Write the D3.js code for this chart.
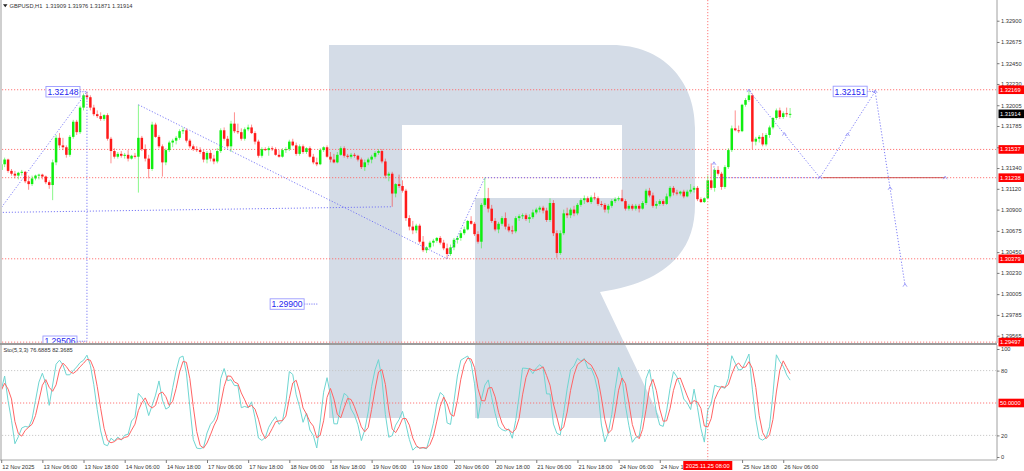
<!DOCTYPE html>
<html><head><meta charset="utf-8">
<script src="https://cdn.jsdelivr.net/npm/d3@7"></script>
<style>
html,body{margin:0;padding:0;background:#fff;}
svg{display:block;font-family:"Liberation Sans",Arial,sans-serif;}
</style></head><body>
<svg id="c" width="1024" height="471"></svg>
<script>
// ---------------- DATA ----------------
const symbolLabel = "GBPUSD,H1";
const headerValues = ["1.31909", "1.31976", "1.31871", "1.31914"];
const stochLabel = "Sto(5,3,3)";
const stochLabelValues = ["76.6885", "82.3685"];
const firstBarUTC = [2025, 10, 12, 18]; // 12 Nov 2025 18:00, hourly bars, weekends skipped

const opens = [
1.3132,1.3138,1.3143,1.3131,1.3128,1.3126,1.3129,1.3130,1.3120,1.3117,
1.3123,1.3126,1.3127,1.3125,1.3119,1.3116,1.3140,1.3166,1.3158,1.3156,
1.3148,1.3167,1.3183,1.3172,1.3198,1.3211,1.3209,1.3198,1.3191,1.3189,
1.3186,1.3190,1.3165,1.3152,1.3146,1.3149,1.3147,1.3148,1.3144,1.3147,
1.3146,1.3166,1.3154,1.3144,1.3133,1.3180,1.3167,1.3157,1.3140,1.3153,
1.3161,1.3163,1.3166,1.3173,1.3174,1.3163,1.3157,1.3154,1.3153,1.3151,
1.3143,1.3150,1.3144,1.3141,1.3152,1.3174,1.3165,1.3157,1.3181,1.3173,
1.3172,1.3165,1.3175,1.3177,1.3171,1.3162,1.3147,1.3154,1.3153,1.3155,
1.3154,1.3148,1.3146,1.3153,1.3154,1.3162,1.3158,1.3149,1.3157,1.3151,
1.3155,1.3146,1.3140,1.3138,1.3153,1.3156,1.3146,1.3143,1.3140,1.3148,
1.3155,1.3147,1.3146,1.3148,1.3147,1.3143,1.3135,1.3140,1.3143,1.3146,
1.3150,1.3152,1.3141,1.3126,1.3128,1.3107,1.3117,1.3115,1.3110,1.3081,
1.3072,1.3068,1.3073,1.3056,1.3047,1.3050,1.3055,1.3057,1.3060,1.3055,
1.3049,1.3043,1.3050,1.3058,1.3060,1.3065,1.3069,1.3078,1.3075,1.3064,
1.3056,1.3095,1.3102,1.3091,1.3078,1.3069,1.3075,1.3081,1.3072,1.3068,
1.3067,1.3081,1.3083,1.3084,1.3080,1.3082,1.3087,1.3090,1.3092,1.3089,
1.3079,1.3097,1.3065,1.3044,1.3065,1.3086,1.3084,1.3090,1.3086,1.3095,
1.3100,1.3102,1.3098,1.3103,1.3102,1.3096,1.3095,1.3090,1.3094,1.3099,
1.3101,1.3102,1.3099,1.3091,1.3094,1.3091,1.3094,1.3091,1.3097,1.3110,
1.3105,1.3094,1.3096,1.3099,1.3096,1.3104,1.3113,1.3108,1.3107,1.3109,
1.3104,1.3109,1.3111,1.3113,1.3101,1.3098,1.3102,1.3121,1.3113,1.3132,
1.3128,1.3114,1.3135,1.3153,1.3176,1.3174,1.3173,1.3201,1.3206,1.3211,
1.3162,1.3165,1.3167,1.3159,1.3169,1.3177,1.3187,1.3195,1.3188,1.3192,
1.31909];

const highs = [
1.3143,1.3145,1.3144,1.3133,1.3131,1.3130,1.3132,1.3131,1.3126,1.3126,
1.3127,1.3128,1.3128,1.3126,1.3121,1.3143,1.3169,1.3171,1.3166,1.3158,
1.3169,1.3185,1.3185,1.3200,1.3213,1.32148,1.3211,1.3201,1.3195,1.3193,
1.3191,1.3192,1.3167,1.3155,1.3151,1.3152,1.3150,1.3153,1.3148,1.3150,
1.3201,1.3168,1.3159,1.3148,1.3183,1.3182,1.3169,1.3159,1.3155,1.3163,
1.3165,1.3168,1.3175,1.3177,1.3176,1.3165,1.3159,1.3157,1.3156,1.3153,
1.3152,1.3153,1.3148,1.3155,1.3176,1.3177,1.3168,1.3184,1.3193,1.3181,
1.3176,1.3177,1.3180,1.3180,1.3173,1.3164,1.3156,1.3156,1.3157,1.3157,
1.3156,1.3153,1.3155,1.3156,1.3164,1.3165,1.3161,1.3159,1.3159,1.3156,
1.3157,1.3149,1.3145,1.3155,1.3157,1.3158,1.3151,1.3149,1.3151,1.3157,
1.3157,1.3149,1.3150,1.3150,1.3148,1.3145,1.3143,1.3145,1.3148,1.3152,
1.3154,1.3154,1.3144,1.3130,1.3130,1.3118,1.3127,1.3121,1.3112,1.3084,
1.3078,1.3075,1.3075,1.3062,1.3051,1.3057,1.3059,1.3061,1.3062,1.3058,
1.3054,1.3053,1.3060,1.3062,1.3067,1.3072,1.3079,1.3083,1.3077,1.3067,
1.3097,1.31238,1.3113,1.3095,1.3081,1.3077,1.3083,1.3087,1.3075,1.3073,
1.3083,1.3085,1.3086,1.3086,1.3085,1.3090,1.3092,1.3094,1.3094,1.3092,
1.3102,1.3100,1.3068,1.3068,1.3090,1.3092,1.3092,1.3094,1.3097,1.3102,
1.3105,1.3104,1.3105,1.3108,1.3104,1.3099,1.3097,1.3096,1.3101,1.3103,
1.3104,1.3111,1.3101,1.3096,1.3096,1.3096,1.3096,1.3099,1.3112,1.3113,
1.3108,1.3099,1.3101,1.3101,1.3107,1.3115,1.3115,1.3111,1.3110,1.3111,
1.3111,1.3117,1.3115,1.3115,1.3103,1.3103,1.3126,1.3139,1.3134,1.3136,
1.3130,1.3137,1.3155,1.3179,1.3195,1.3179,1.3202,1.3208,1.3216,1.3213,
1.3167,1.3169,1.3171,1.3171,1.3179,1.3188,1.3197,1.3198,1.3194,1.3198,
1.31976];

const lows = [
1.3130,1.3135,1.3129,1.3126,1.3123,1.3122,1.3126,1.3118,1.3111,1.3115,
1.3121,1.3122,1.3122,1.3117,1.3112,1.3100,1.3137,1.3155,1.3153,1.3145,
1.3146,1.3165,1.3169,1.3170,1.3195,1.3206,1.3195,1.3189,1.3187,1.3184,
1.3184,1.3163,1.3139,1.3144,1.3144,1.3145,1.3144,1.3141,1.3143,1.3144,
1.3108,1.3152,1.3141,1.3123,1.3131,1.3166,1.3155,1.3125,1.3137,1.3151,
1.3156,1.3159,1.3164,1.3170,1.3161,1.3155,1.3152,1.3151,1.3149,1.3140,
1.3139,1.3141,1.3138,1.3139,1.3150,1.3163,1.3155,1.3151,1.3171,1.3170,
1.3163,1.3163,1.3173,1.3170,1.3159,1.3145,1.3145,1.3152,1.3147,1.3152,
1.3147,1.3145,1.3145,1.3150,1.3152,1.3157,1.3147,1.3147,1.3149,1.3149,
1.3145,1.3138,1.3136,1.3137,1.3151,1.3145,1.3140,1.3139,1.3139,1.3147,
1.3145,1.3144,1.3144,1.3145,1.3141,1.3133,1.3131,1.3137,1.3139,1.3144,
1.3148,1.3139,1.3123,1.3120,1.3093,1.3103,1.3113,1.3108,1.3078,1.3068,
1.3064,1.3065,1.3054,1.3045,1.3044,1.3048,1.3051,1.3055,1.3053,1.3047,
1.3038,1.3041,1.3047,1.3054,1.3057,1.3063,1.3068,1.3074,1.3062,1.3054,
1.3049,1.3093,1.3087,1.3076,1.3067,1.3065,1.3073,1.3069,1.3066,1.3064,
1.3065,1.3078,1.3080,1.3078,1.3076,1.3080,1.3085,1.3087,1.3086,1.3077,
1.3077,1.3062,1.3039,1.3042,1.3063,1.3081,1.3081,1.3083,1.3084,1.3093,
1.3096,1.3097,1.3096,1.3100,1.3094,1.3093,1.3087,1.3086,1.3092,1.3097,
1.3099,1.3098,1.3089,1.3089,1.3089,1.3089,1.3087,1.3090,1.3095,1.3103,
1.3092,1.3091,1.3094,1.3094,1.3095,1.3102,1.3105,1.3105,1.3105,1.3102,
1.3103,1.3107,1.3108,1.3099,1.3097,1.3097,1.3101,1.3111,1.3109,1.3126,
1.3111,1.3112,1.3133,1.3151,1.3173,1.3171,1.3172,1.3199,1.3204,1.3154,
1.3158,1.3161,1.3157,1.3157,1.3166,1.3175,1.3185,1.3186,1.3186,1.3188,
1.31871];

const closes = [
1.3138,1.3143,1.3131,1.3128,1.3126,1.3129,1.3130,1.3120,1.3117,1.3123,
1.3126,1.3127,1.3125,1.3119,1.3116,1.3140,1.3166,1.3158,1.3156,1.3148,
1.3167,1.3183,1.3172,1.3198,1.3211,1.3209,1.3198,1.3191,1.3189,1.3186,
1.3190,1.3165,1.3152,1.3146,1.3149,1.3147,1.3148,1.3144,1.3147,1.3146,
1.3166,1.3154,1.3144,1.3133,1.3180,1.3167,1.3157,1.3140,1.3153,1.3161,
1.3163,1.3166,1.3173,1.3174,1.3163,1.3157,1.3154,1.3153,1.3151,1.3143,
1.3150,1.3144,1.3141,1.3152,1.3174,1.3165,1.3157,1.3181,1.3173,1.3172,
1.3165,1.3175,1.3177,1.3171,1.3162,1.3147,1.3154,1.3153,1.3155,1.3154,
1.3148,1.3146,1.3153,1.3154,1.3162,1.3158,1.3149,1.3157,1.3151,1.3155,
1.3146,1.3140,1.3138,1.3153,1.3156,1.3146,1.3143,1.3140,1.3148,1.3155,
1.3147,1.3146,1.3148,1.3147,1.3143,1.3135,1.3140,1.3143,1.3146,1.3150,
1.3152,1.3141,1.3126,1.3128,1.3107,1.3117,1.3115,1.3110,1.3081,1.3072,
1.3068,1.3073,1.3056,1.3047,1.3050,1.3055,1.3057,1.3060,1.3055,1.3049,
1.3043,1.3050,1.3058,1.3060,1.3065,1.3069,1.3078,1.3075,1.3064,1.3056,
1.3095,1.3102,1.3091,1.3078,1.3069,1.3075,1.3081,1.3072,1.3068,1.3067,
1.3081,1.3083,1.3084,1.3080,1.3082,1.3087,1.3090,1.3092,1.3089,1.3079,
1.3097,1.3065,1.3044,1.3065,1.3086,1.3084,1.3090,1.3086,1.3095,1.3100,
1.3102,1.3098,1.3103,1.3102,1.3096,1.3095,1.3090,1.3094,1.3099,1.3101,
1.3102,1.3099,1.3091,1.3094,1.3091,1.3094,1.3091,1.3097,1.3110,1.3105,
1.3094,1.3096,1.3099,1.3096,1.3104,1.3113,1.3108,1.3107,1.3109,1.3104,
1.3109,1.3111,1.3113,1.3101,1.3098,1.3102,1.3121,1.3113,1.3132,1.3128,
1.3114,1.3135,1.3153,1.3176,1.3174,1.3173,1.3201,1.3206,1.3211,1.3162,
1.3165,1.3167,1.3159,1.3169,1.3177,1.3187,1.3195,1.3188,1.3192,1.3191,
1.31914];

const priceTicks = [1.32900,1.32675,1.32450,1.32230,1.32005,1.31785,1.31560,1.31340,
                    1.31120,1.30900,1.30675,1.30450,1.30230,1.30005,1.29785,1.29565];
const priceRange = [1.294876, 1.331192];
const levelLines = [1.32169, 1.31537, 1.31238, 1.30379, 1.29497];
const currentPrice = 1.31914;
const stochTicks = [0, 20, 80, 100];
const stochGreyLevels = [20, 80];
const stochRedLevel = 50;
const crosshairBar = 206;

// analyst drawings: [bar index, price]
const trendLines = [
  [[-0.4, 1.30900], [25, 1.32148]],
  [[-0.4, 1.30870], [114, 1.30930]],
  [[25, 1.32148], [25, 1.29506]],
  [[40, 1.32010], [130, 1.30380]],
  [[130, 1.30380], [141, 1.31238]],
  [[141, 1.31238], [175, 1.31238]],
  [[207.8, 1.31390], [207.8, 1.31238]],
  [[207.8, 1.31238], [238.7, 1.31238]]
];
const projection = [[218, 1.32160], [238.7, 1.31238], [254.8, 1.32151], [263.5, 1.30100]];
const redSegment = [[239.5, 1.31238], [275.2, 1.31238]];
const priceLabels = [
  {text: "1.32148", bar: 25, price: 1.32148, gap: 7},
  {text: "1.29506", bar: 25, price: 1.29506, gap: 10},
  {text: "1.32151", bar: 254.8, price: 1.32151, gap: 8},
  {text: "1.29900", bar: 92.4, price: 1.29900, gap: 14}
];

// ---------------- CHART ----------------
const svg = d3.select("#c");
const axisX = 997, mainBottom = 343, subTop = 345, subBottom = 460;
const n = closes.length;
const x = d3.scaleLinear().domain([0, n - 1]).range([1.2, 1.2 + 3.43 * (n - 1)]);
const y = d3.scaleLinear().domain(priceRange).range([mainBottom, 0]);
const ys = d3.scaleLinear().domain([0, 100]).range([457, 349]);
const F = "Liberation Sans, Arial, sans-serif";
const fs = 5.7;

const defs = svg.append("defs");
defs.append("clipPath").attr("id", "cm").append("rect").attr("x", 2).attr("y", 0).attr("width", axisX - 2).attr("height", mainBottom);
defs.append("clipPath").attr("id", "cs").append("rect").attr("x", 2).attr("y", subTop).attr("width", axisX - 2).attr("height", subBottom - subTop);
defs.append("clipPath").attr("id", "call").append("rect").attr("x", 2).attr("y", 0).attr("width", axisX - 2).attr("height", subBottom);

// watermark logo (decorative)
svg.append("path").attr("clip-path", "url(#call)")
  .attr("d", "M329,418 L329,45 L612,45 C662,45 695,80 695,128 L695,205 C695,250 668,282 600,292 L660,418 L475,418 L475,198 L622,198 L622,125 L402,125 L402,418 Z")
  .attr("fill", "#d4dce7");

// bar times
const barTimes = [];
{
  let t = Date.UTC(...firstBarUTC);
  while (barTimes.length < n) {
    const d = new Date(t);
    const wd = d.getUTCDay();
    if (wd !== 0 && wd !== 6) barTimes.push(d);
    t += 3600e3;
  }
}

// main panel
const gm = svg.append("g").attr("clip-path", "url(#cm)");
gm.selectAll("line.lvl").data(levelLines).join("line")
  .attr("x1", 2).attr("x2", axisX).attr("y1", d => y(d)).attr("y2", d => y(d))
  .attr("stroke", "#ff6a6a").attr("stroke-width", 0.9).attr("stroke-dasharray", "1.2,1.8");

const bars = d3.range(n).map(i => ({i, o: opens[i], h: highs[i], l: lows[i], c: closes[i]}));
const col = d => d.c >= d.o ? "#10ee10" : "#ff1a1a";
gm.selectAll("line.wick").data(bars).join("line")
  .attr("x1", d => x(d.i)).attr("x2", d => x(d.i))
  .attr("y1", d => y(d.h)).attr("y2", d => y(d.l))
  .attr("stroke", col).attr("stroke-width", 0.9).attr("stroke-opacity", 0.55);
gm.selectAll("rect.body").data(bars).join("rect")
  .attr("x", d => x(d.i) - 1.25).attr("width", 2.5)
  .attr("y", d => y(Math.max(d.o, d.c)))
  .attr("height", d => Math.max(1, Math.abs(y(d.o) - y(d.c))))
  .attr("fill", col);

// analyst drawings
const px = p => [x(p[0]), y(p[1])];
const blue = "#6f6ff5";
gm.selectAll("line.tl").data(trendLines).join("line")
  .attr("x1", d => px(d[0])[0]).attr("y1", d => px(d[0])[1])
  .attr("x2", d => px(d[1])[0]).attr("y2", d => px(d[1])[1])
  .attr("stroke", blue).attr("stroke-width", 0.9).attr("stroke-dasharray", "1.2,1.8");
gm.append("path").attr("d", d3.line()(projection.map(px)))
  .attr("fill", "none").attr("stroke", blue).attr("stroke-width", 0.9).attr("stroke-dasharray", "1.2,1.8");
gm.append("line")
  .attr("x1", px(redSegment[0])[0]).attr("y1", px(redSegment[0])[1])
  .attr("x2", px(redSegment[1])[0]).attr("y2", px(redSegment[1])[1])
  .attr("stroke", "#c84848").attr("stroke-width", 0.9);
// anchor handles
const anchors = projection.concat([redSegment[1], trendLines[6][0]]);
const mids = d3.range(projection.length - 1).map(k => [(projection[k][0] + projection[k + 1][0]) / 2, (projection[k][1] + projection[k + 1][1]) / 2]);
gm.selectAll("path.anc").data(anchors.concat(mids)).join("path")
  .attr("d", d => { const [a, b] = px(d); return `M${a - 2},${b + 1.5} L${a},${b - 1.5} L${a + 2},${b + 1.5}`; })
  .attr("fill", "none").attr("stroke", "#8a8af8").attr("stroke-width", 0.8);

// price labels
priceLabels.forEach(lb => {
  const [ax, ay] = px([lb.bar, lb.price]);
  const w = 34, h = 10.5;
  const right = ax - lb.gap;
  gm.append("line").attr("x1", right).attr("x2", ax).attr("y1", ay).attr("y2", ay)
    .attr("stroke", blue).attr("stroke-width", 0.9).attr("stroke-dasharray", "1.2,1.2");
  gm.append("rect").attr("x", right - w).attr("y", ay - h / 2).attr("width", w).attr("height", h)
    .attr("fill", "#fff").attr("stroke", "#9a9aff").attr("stroke-width", 0.9);
  gm.append("text").attr("x", right - w / 2).attr("y", ay + 3.1).attr("text-anchor", "middle")
    .attr("font-family", F).attr("font-size", 8.6).attr("fill", "#2424f0").text(lb.text);
});

// stochastic panel
function stochastic(kPeriod, slowing, dPeriod) {
  const num = [], den = [], K = [], D = [];
  for (let i = 0; i < n; i++) {
    const a = Math.max(0, i - kPeriod + 1);
    const lo = d3.min(lows.slice(a, i + 1)), hi = d3.max(highs.slice(a, i + 1));
    num.push(closes[i] - lo); den.push(hi - lo);
  }
  for (let i = 0; i < n; i++) {
    const a = Math.max(0, i - slowing + 1);
    const s = d3.sum(den.slice(a, i + 1));
    K.push(s ? 100 * d3.sum(num.slice(a, i + 1)) / s : 50);
  }
  for (let i = 0; i < n; i++) {
    const a = Math.max(0, i - dPeriod + 1);
    D.push(d3.mean(K.slice(a, i + 1)));
  }
  return {K, D};
}
const st = stochastic(5, 3, 3);
const gs = svg.append("g").attr("clip-path", "url(#cs)");
gs.selectAll("line.sl").data(stochGreyLevels).join("line")
  .attr("x1", 2).attr("x2", axisX).attr("y1", d => ys(d)).attr("y2", d => ys(d))
  .attr("stroke", "#c4c4c4").attr("stroke-width", 0.9).attr("stroke-dasharray", "1.2,1.8");
gs.append("line").attr("x1", 2).attr("x2", axisX).attr("y1", ys(stochRedLevel)).attr("y2", ys(stochRedLevel))
  .attr("stroke", "#ff6a6a").attr("stroke-width", 0.9).attr("stroke-dasharray", "1.2,1.8");
const sline = d3.line().x((v, i) => x(i)).y(v => ys(v));
gs.append("path").attr("d", sline(st.K)).attr("fill", "none").attr("stroke", "#6fd6d2").attr("stroke-width", 1);
gs.append("path").attr("d", sline(st.D)).attr("fill", "none").attr("stroke", "#ff6464").attr("stroke-width", 1);

// crosshair
svg.append("line").attr("x1", x(crosshairBar)).attr("x2", x(crosshairBar)).attr("y1", 0).attr("y2", subBottom)
  .attr("stroke", "#ff6a6a").attr("stroke-width", 0.9).attr("stroke-dasharray", "1.2,1.8");

// frames
svg.append("rect").attr("x", 0).attr("y", 0).attr("width", 2).attr("height", subBottom).attr("fill", "#cfcfcf");
svg.append("rect").attr("x", 0).attr("y", mainBottom).attr("width", axisX).attr("height", 2).attr("fill", "#9b9b9b");
svg.append("line").attr("x1", 0).attr("x2", axisX).attr("y1", subBottom).attr("y2", subBottom).attr("stroke", "#a8a8a8").attr("stroke-width", 1);

// axes
const styleAxis = g => {
  g.select(".domain").attr("stroke", "#a0a0a0");
  g.selectAll(".tick line").attr("stroke", "#7a7a7a");
  g.selectAll(".tick text").attr("font-family", F).attr("font-size", fs).attr("fill", "#333");
};
svg.append("g").attr("transform", `translate(${axisX},0)`)
  .call(d3.axisRight(y).tickValues(priceTicks).tickSize(2.5).tickPadding(1.5).tickFormat(d3.format(".5f")).tickSizeOuter(0))
  .call(g => g.select(".domain").attr("d", `M0,0V${mainBottom}`))
  .call(styleAxis);
svg.append("g").attr("transform", `translate(${axisX},0)`)
  .call(d3.axisRight(ys).tickValues(stochTicks).tickSize(2.5).tickPadding(1.5).tickFormat(d3.format("d")).tickSizeOuter(0))
  .call(g => g.select(".domain").attr("d", `M0,${subTop}V${subBottom}`))
  .call(styleAxis);

// crosshair time box geometry
const boxW = 49, boxL = x(crosshairBar) - boxW / 2, boxR = boxL + boxW;

const timeTicks = d3.range(n).filter(i => [6, 18].includes(barTimes[i].getUTCHours()));
const fmtT = d3.utcFormat("%-d %b %H:%M"), fmtD = d3.utcFormat("%-d %b %Y");
// labels whose start lies under the crosshair time box are hidden by it
const tickText = i => (x(i) >= boxL && x(i) <= boxR) ? "" : (i === 0 ? fmtD(barTimes[i]) : fmtT(barTimes[i]));
defs.append("clipPath").attr("id", "ct").call(cp => {
  cp.append("rect").attr("x", 0).attr("y", -2).attr("width", boxL).attr("height", 14);
  cp.append("rect").attr("x", boxR).attr("y", -2).attr("width", 1024 - boxR).attr("height", 14);
});
svg.append("g").attr("transform", `translate(0,${subBottom})`).attr("clip-path", "url(#ct)")
  .call(d3.axisBottom(x).tickValues(timeTicks).tickSize(3).tickSizeOuter(0).tickFormat(tickText))
  .call(g => g.select(".domain").remove())
  .call(styleAxis)
  .call(g => g.selectAll(".tick text").attr("text-anchor", "start").attr("dx", "0.1em").attr("y", 4.5));

// axis highlight boxes
function axisBox(yPos, text, fill) {
  svg.append("rect").attr("x", axisX + 1.5).attr("y", yPos - 4.3).attr("width", 26).attr("height", 8.6).attr("fill", fill);
  svg.append("text").attr("x", axisX + 3).attr("y", yPos + 2).attr("font-family", F).attr("font-size", fs)
    .attr("fill", "#fff").text(text);
}
levelLines.forEach(v => axisBox(y(v), d3.format(".5f")(v), "#ff0000"));
axisBox(y(currentPrice), d3.format(".5f")(currentPrice), "#000");
axisBox(ys(stochRedLevel), d3.format(".4f")(stochRedLevel), "#ff0000");

// crosshair time box
{
  const cx = x(crosshairBar), lbl = d3.utcFormat("%Y.%m.%d %H:%M")(barTimes[crosshairBar]);
  svg.append("rect").attr("x", boxL).attr("y", 461).attr("width", boxW).attr("height", 9).attr("fill", "#ff0000");
  svg.append("text").attr("x", cx).attr("y", 467.8).attr("text-anchor", "middle").attr("font-family", F)
    .attr("font-size", fs).attr("fill", "#fff").text(lbl);
}

// header texts
svg.append("path").attr("d", "M3,4.3 L7.5,4.3 L5.25,7.3 Z").attr("fill", "#222");
svg.append("text").attr("x", 9.5).attr("y", 7.6).attr("font-family", F).attr("font-size", fs).attr("fill", "#333")
  .attr("xml:space", "preserve").text(symbolLabel + "  " + headerValues.join(" "));
svg.append("text").attr("x", 3.5).attr("y", 352).attr("font-family", F).attr("font-size", fs).attr("fill", "#333")
  .text(stochLabel + " " + stochLabelValues.join(" "));
</script>
</body></html>
